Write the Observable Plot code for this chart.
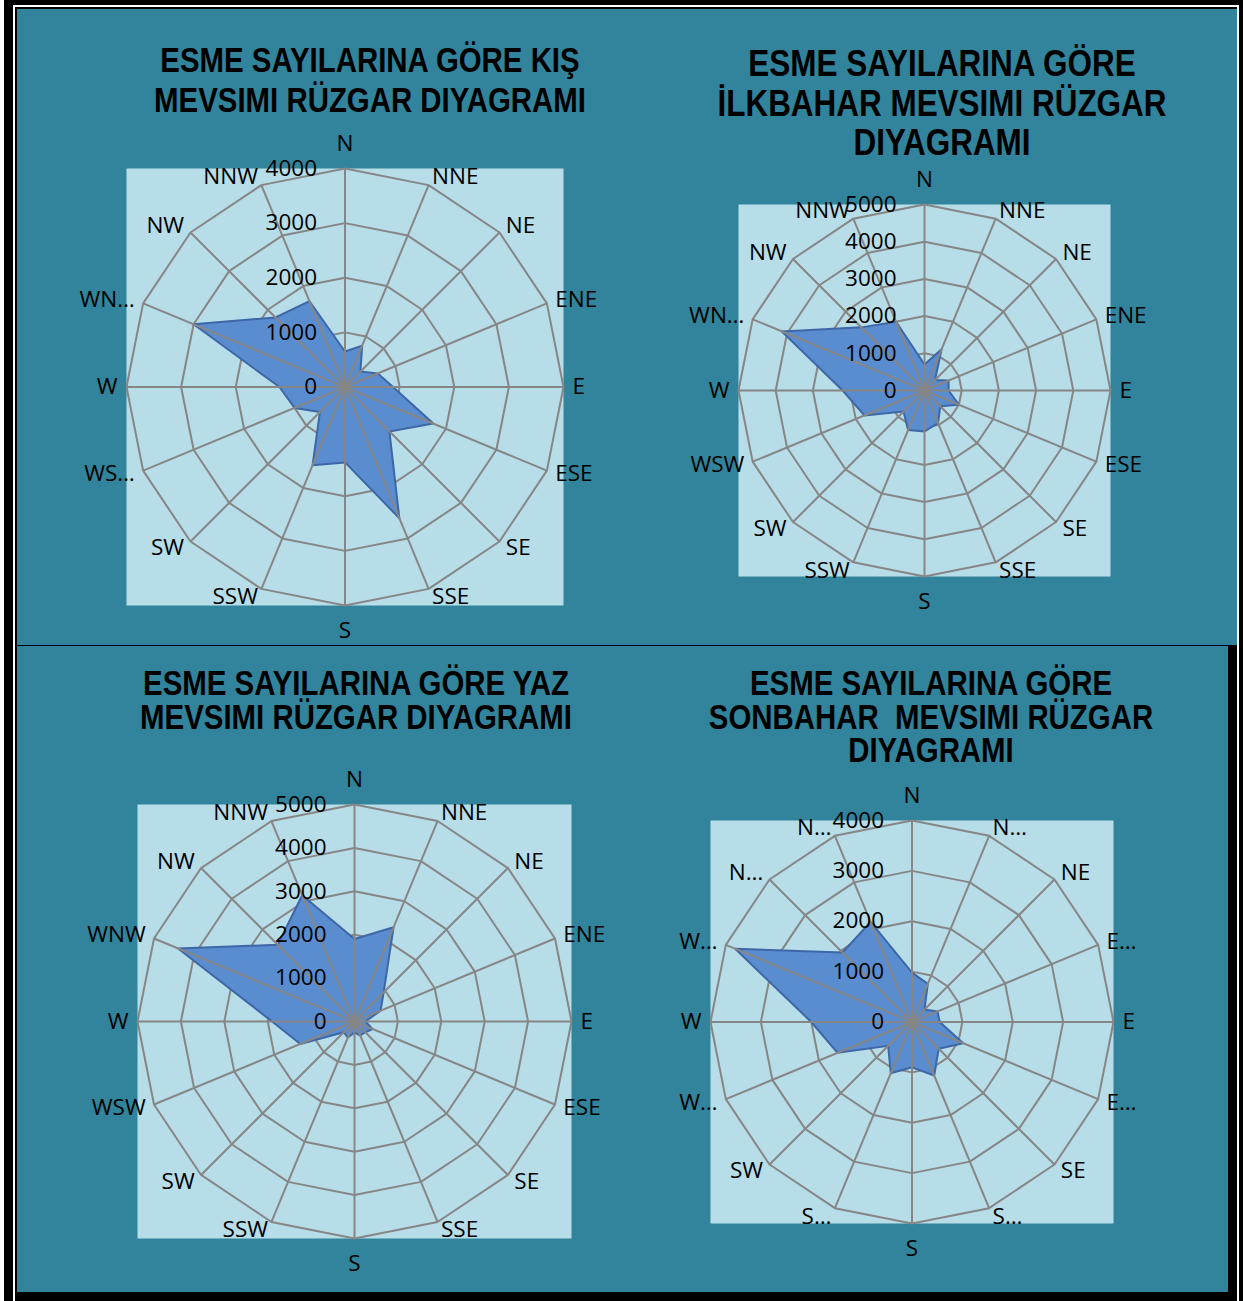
<!DOCTYPE html>
<html><head><meta charset="utf-8">
<script src="https://cdn.jsdelivr.net/npm/d3@7"></script>
<script src="https://cdn.jsdelivr.net/npm/@observablehq/plot@0.6"></script>
<style>
html,body{margin:0;padding:0;}
body{width:1243px;height:1301px;background:#000;position:relative;overflow:hidden;}
.abs{position:absolute;}
.title{position:absolute;text-align:center;font-family:"Liberation Sans",Arial,sans-serif;font-weight:bold;color:#000;white-space:pre;transform:scaleX(0.84);transform-origin:50% 0;}
.chart{position:absolute;}
.chart svg{overflow:visible;}
</style></head><body>
<div class="abs" style="left:0;top:0;width:4px;height:1301px;background:#fff"></div>
<div class="abs" style="left:13px;top:5px;width:2px;height:1296px;background:#fff"></div>
<div class="abs" style="left:13px;top:5px;width:1226px;height:2px;background:#fff"></div>
<div class="abs" style="left:1237px;top:5px;width:2px;height:1296px;background:#fff"></div>
<div class="abs" style="left:17px;top:9px;width:1220px;height:636px;background:#31849B"></div>
<div class="abs" style="left:17px;top:646px;width:1211px;height:646px;background:#31849B"></div>

<div class="title" style="left:70px;width:600px;top:40px;font-size:35px;line-height:40px">ESME SAYILARINA GÖRE KIŞ
MEVSIMI RÜZGAR DIYAGRAMI</div>
<div class="title" style="left:642px;width:600px;top:44px;font-size:37px;line-height:39.5px;transform:scaleX(0.85)">ESME SAYILARINA GÖRE
İLKBAHAR MEVSIMI RÜZGAR
DIYAGRAMI</div>
<div class="title" style="left:56px;width:600px;top:666px;font-size:35px;line-height:34px">ESME SAYILARINA GÖRE YAZ
MEVSIMI RÜZGAR DIYAGRAMI</div>
<div class="title" style="left:631px;width:600px;top:666px;font-size:35px;line-height:33.5px">ESME SAYILARINA GÖRE
SONBAHAR  MEVSIMI RÜZGAR
DIYAGRAMI</div>

<div id="c1" class="chart"></div>
<div id="c2" class="chart"></div>
<div id="c3" class="chart"></div>
<div id="c4" class="chart"></div>

<script>
// ---- data ----
const directions = ["N","NNE","NE","ENE","E","ESE","SE","SSE","S","SSW","SW","WSW","W","WNW","NW","NNW"];

const kisValues      = [650, 820, 400, 650, 880, 1750, 1150, 2600, 1380, 1550, 650, 1000, 1200, 3000, 1800, 1700];
const ilkbaharValues = [700, 1200, 400, 700, 650, 1000, 600, 950, 1100, 1150, 800, 1750, 2200, 4150, 2400, 2000];
const yazValues      = [1900, 2350, 950, 650, 250, 450, 350, 350, 250, 400, 350, 1350, 1900, 4400, 2500, 3150];
const sonbaharValues = [980, 820, 350, 550, 550, 1100, 750, 1150, 900, 1100, 670, 1600, 2000, 3800, 1950, 2150];

const kisLabels      = ["N","NNE","NE","ENE","E","ESE","SE","SSE","S","SSW","SW","WS…","W","WN…","NW","NNW"];
const ilkbaharLabels = ["N","NNE","NE","ENE","E","ESE","SE","SSE","S","SSW","SW","WSW","W","WN…","NW","NNW"];
const yazLabels      = ["N","NNE","NE","ENE","E","ESE","SE","SSE","S","SSW","SW","WSW","W","WNW","NW","NNW"];
const sonbaharLabels = ["N","N…","NE","E…","E","E…","SE","S…","S","S…","SW","W…","W","W…","N…","N…"];

const ticks4000 = [0, 1000, 2000, 3000, 4000];
const ticks5000 = [0, 1000, 2000, 3000, 4000, 5000];

// ---- drawing ----
const FONT = "'Open Sans', 'Noto Sans', sans-serif";
const GRID = "#868686";
const FS = 22.5;

function radar({el, values, labels, ticks, cx, cy, R}) {
  const max = d3.max(ticks);
  const m = 80;
  const size = 2 * R;
  const n = directions.length;
  const ang = i => i * 2 * Math.PI / n;
  const k = max / R; // data units per pixel
  const pts = values.map((v, i) => ({dir: directions[i], x: v * Math.sin(ang(i)), y: v * Math.cos(ang(i))}));
  const rings = ticks.filter(t => t > 0).flatMap(t => directions.map((d, i) => ({ring: t, x: t * Math.sin(ang(i)), y: t * Math.cos(ang(i))})));
  const spokes = directions.map((d, i) => ({x: max * Math.sin(ang(i)), y: max * Math.cos(ang(i))}));
  const lab = labels.map((t, i) => {
    const off = (i === 0 ? 18 : i === 8 ? 17 : 9) * k;
    return {text: t, i, x: (max + off) * Math.sin(ang(i)), y: (max + off) * Math.cos(ang(i))};
  });
  const txt = {x: "x", y: "y", text: "text", fontSize: FS, fontFamily: FONT, fill: "#000"};
  const chart = Plot.plot({
    width: size + 2 * m,
    height: size + 2 * m,
    margin: m,
    x: {domain: [-max, max], axis: null},
    y: {domain: [-max, max], axis: null},
    style: {background: "transparent", overflow: "visible"},
    marks: [
      Plot.frame({fill: "#B7DDE8", stroke: "none"}),
      Plot.line(rings, {x: "x", y: "y", z: "ring", curve: "linear-closed", stroke: GRID, strokeWidth: 2}),
      Plot.line(pts, {x: "x", y: "y", curve: "linear-closed", fill: "#5A8CD0", stroke: "#3D67A6", strokeWidth: 2, strokeLinejoin: "round"}),
      Plot.link(spokes, {x1: () => 0, y1: () => 0, x2: "x", y2: "y", stroke: GRID, strokeWidth: 2}),
      Plot.dot([0], {x: () => 0, y: () => 0, r: 3.5, fill: GRID}),
      Plot.text(ticks, {x: () => 0, y: d => d, text: d => String(d), textAnchor: "end", dx: -28, fontSize: FS, fontFamily: FONT, fill: "#000"}),
      Plot.text(lab.filter(d => d.i === 0), {...txt, lineAnchor: "bottom"}),
      Plot.text(lab.filter(d => d.i === 8), {...txt, lineAnchor: "top"}),
      Plot.text(lab.filter(d => d.i > 0 && d.i < 8), {...txt, textAnchor: "start"}),
      Plot.text(lab.filter(d => d.i > 8), {...txt, textAnchor: "end"})
    ]
  });
  const div = document.getElementById(el);
  div.style.left = (cx - R - m) + "px";
  div.style.top = (cy - R - m) + "px";
  div.appendChild(chart);
}

radar({el: "c1", values: kisValues, labels: kisLabels, ticks: ticks4000, cx: 344.5, cy: 386.5, R: 218.5});
radar({el: "c2", values: ilkbaharValues, labels: ilkbaharLabels, ticks: ticks5000, cx: 924, cy: 390, R: 186});
radar({el: "c3", values: yazValues, labels: yazLabels, ticks: ticks5000, cx: 354, cy: 1021, R: 217});
radar({el: "c4", values: sonbaharValues, labels: sonbaharLabels, ticks: ticks4000, cx: 911, cy: 1021, R: 201.5});
</script>
</body></html>
